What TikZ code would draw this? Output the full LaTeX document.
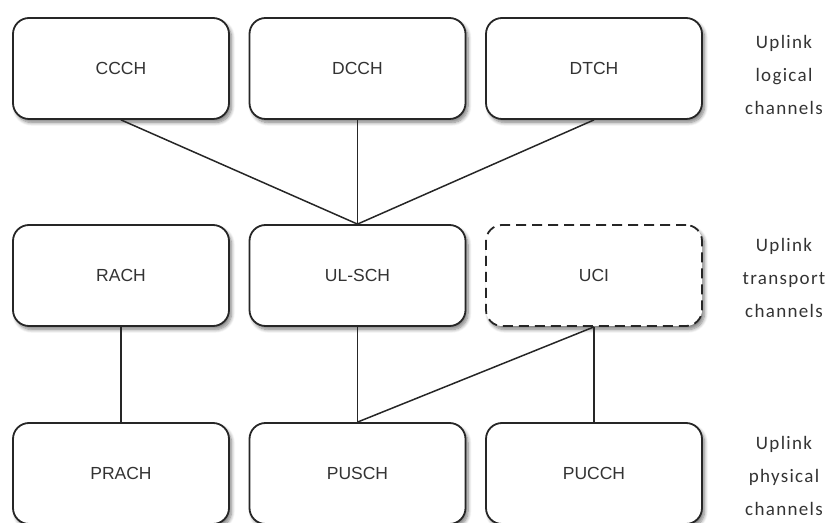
\documentclass[tikz,border=0pt]{standalone}
\usepackage{fontspec}
\setmainfont{Liberation Sans}
\newfontfamily\sidefont{Carlito}[LetterSpace=7]
\usetikzlibrary{shadows.blur}
\begin{document}
\begin{tikzpicture}[x=1pt,y=1pt,
  chbox/.style={draw=black!85, line width=1.8pt, rounded corners=16pt,
    minimum width=216pt, minimum height=101pt, fill=white,
    text=black!80, font=\fontsize{17.5}{20}\selectfont,
    blur shadow={shadow xshift=2.5pt, shadow yshift=-3.5pt, shadow blur steps=8, shadow opacity=50, shadow blur radius=3.5pt}},
  dashbox/.style={chbox, dash pattern=on 10pt off 6pt},
  link/.style={draw=black!85, line width=1.5pt},
  side/.style={align=center, text=black!80, font=\sidefont\fontsize{19}{33}\selectfont}]
\useasboundingbox (0,0) rectangle (827,522);
\clip (0,0) rectangle (827,522);

% logical channels
\node[chbox] (ccch) at (121,453.5) {CCCH};
\node[chbox] (dcch) at (357.5,453.5) {DCCH};
\node[chbox] (dtch) at (594,453.5) {DTCH};

% transport channels
\node[chbox] (rach) at (121,246.5) {RACH};
\node[chbox] (ulsch) at (357.5,246.5) {UL-SCH};
\node[dashbox] (uci) at (594,246.5) {UCI};

% physical channels
\node[chbox] (prach) at (121,48.5) {PRACH};
\node[chbox] (pusch) at (357.5,48.5) {PUSCH};
\node[chbox] (pucch) at (594,48.5) {PUCCH};

% mappings
\draw[link] (ccch.south) -- (ulsch.north);
\draw[link] (dcch.south) -- (ulsch.north);
\draw[link] (dtch.south) -- (ulsch.north);
\draw[link] (rach.south) -- (prach.north);
\draw[link] (ulsch.south) -- (pusch.north);
\draw[link] (uci.south) -- (pusch.north);
\draw[link] (uci.south) -- (pucch.north);

% row captions
\node[side] (lg) at (784,447) {Uplink\\ logical\\ channels};
\node[side] (tr) at (784,244) {Uplink\\ transport\\ channels};
\node[side] (ph) at (784,46) {Uplink\\ physical\\ channels};
\end{tikzpicture}
\end{document}
